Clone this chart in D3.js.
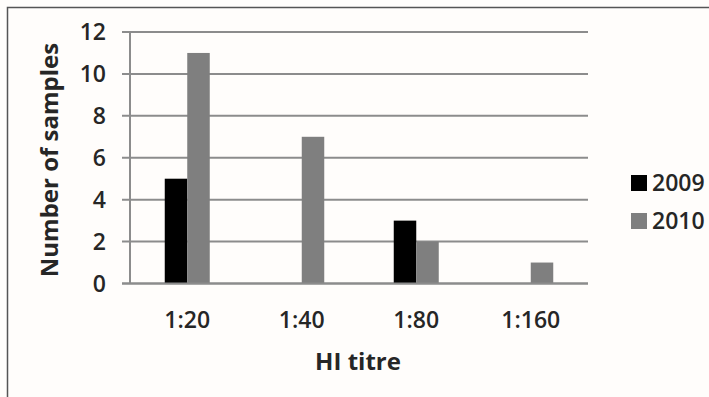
<!DOCTYPE html>
<html>
<head>
<meta charset="utf-8">
<script src="https://cdn.jsdelivr.net/npm/d3@7/dist/d3.min.js"></script>
<style>
  html, body { margin: 0; padding: 0; background: #ffffff; }
  svg { display: block; }
  text { font-family: "Open Sans", "Noto Sans", sans-serif; fill: #262626; }
</style>
</head>
<body>
<svg id="chart" width="709" height="397"></svg>
<script>
// HI titre distribution per sampling year
const titres = ["1:20", "1:40", "1:80", "1:160"];
const years = ["2009", "2010"];
const samples2009 = [5, 0, 3, 0];
const samples2010 = [11, 7, 2, 1];
const yTicks = [0, 2, 4, 6, 8, 10, 12];
const yearColors = ["#000000", "#7f7f7f"];

const series = [samples2009, samples2010];
const svg = d3.select("#chart");

// outer frame (top and left edges)
svg.append("rect").attr("x", 0).attr("y", 0).attr("width", 709).attr("height", 397).attr("fill", "#fffdfb");
svg.append("path").attr("d", "M7.5,397 V7.5 H709").attr("fill", "none").attr("stroke", "#555").attr("stroke-width", 1.5);

const plot = { left: 130, right: 588, top: 32, bottom: 283.5 };

const x = d3.scaleBand().domain(titres).range([plot.left, plot.right])
  .paddingInner(0.607).paddingOuter(0.3035);
const xs = d3.scaleBand().domain(years).range([0, x.bandwidth()]);
const y = d3.scaleLinear().domain([0, 12]).range([plot.bottom, plot.top]);

// gridlines with short ticks left of the axis
svg.append("g").selectAll("line").data(yTicks).join("line")
  .attr("x1", plot.left - 8).attr("x2", plot.right)
  .attr("y1", d => y(d)).attr("y2", d => y(d))
  .attr("stroke", "#8c8c8c").attr("stroke-width", 2);

// vertical axis line
svg.append("line").attr("x1", plot.left).attr("x2", plot.left)
  .attr("y1", plot.top).attr("y2", plot.bottom)
  .attr("stroke", "#8c8c8c").attr("stroke-width", 2);

// y tick labels
svg.append("g").selectAll("text").data(yTicks).join("text")
  .attr("x", 106).attr("y", d => y(d)).attr("dy", "0.35em")
  .attr("text-anchor", "end").attr("font-size", 23).attr("font-weight", 600)
  .text(d => d);

// bars
const groups = svg.append("g").selectAll("g").data(titres).join("g")
  .attr("transform", d => `translate(${x(d)},0)`);
groups.selectAll("rect").data((d, i) => series.map((s, k) => ({ year: years[k], v: s[i], k })))
  .join("rect")
  .attr("x", d => xs(d.year)).attr("width", xs.bandwidth())
  .attr("y", d => y(d.v)).attr("height", d => y(0) - y(d.v))
  .attr("fill", d => yearColors[d.k]);

// redraw baseline over bars
svg.append("line").attr("x1", plot.left - 8).attr("x2", plot.right)
  .attr("y1", y(0)).attr("y2", y(0)).attr("stroke", "#8c8c8c").attr("stroke-width", 2);

// x tick labels
svg.append("g").selectAll("text").data(titres).join("text")
  .attr("x", d => x(d) + x.bandwidth() / 2).attr("y", 328)
  .attr("text-anchor", "middle").attr("font-size", 23).attr("font-weight", 600)
  .text(d => d);

// axis titles
svg.append("text").attr("x", 358).attr("y", 370).attr("text-anchor", "middle")
  .attr("font-size", 24).attr("font-weight", 700).text("HI titre");
svg.append("text").attr("transform", "translate(58,160) rotate(-90)")
  .attr("text-anchor", "middle").attr("font-size", 24).attr("font-weight", 700)
  .text("Number of samples");

// legend
const legend = svg.append("g").selectAll("g").data(years).join("g")
  .attr("transform", (d, i) => `translate(631,${175 + i * 38})`);
legend.append("rect").attr("width", 16).attr("height", 16).attr("fill", (d, i) => yearColors[i]);
legend.append("text").attr("x", 21).attr("y", 8).attr("dy", "0.35em")
  .attr("font-size", 23).attr("font-weight", 600).text(d => d);
</script>
</body>
</html>
